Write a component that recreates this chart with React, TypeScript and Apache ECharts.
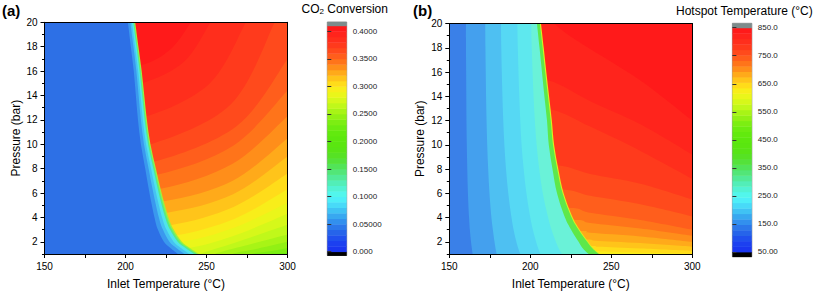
import React, { useEffect, useRef } from 'react';
import * as echarts from 'echarts';

type Pt = [number, number];

// ---------- axes ----------
const pressureTicks = [2, 4, 6, 8, 10, 12, 14, 16, 18, 20];
const pressureMinorTicks = [1, 3, 5, 7, 9, 11, 13, 15, 17, 19];
const boundaryRows = [20, 18, 16, 14, 12, 10, 8, 6, 4, 3, 2, 1.5, 1];

// ---------- colour scale (Origin rainbow, 41 levels) ----------
const palette = [
  '#1a36f0', '#1c40f0', '#2050ee', '#2664ea', '#2c78ea', '#3290ee', '#38a8f0', '#40c2f4', '#48daf8', '#4eeef8',
  '#52f6ec', '#52f2d4', '#52eeb8', '#52ea98', '#52e678', '#52e458', '#54e23a', '#56e224', '#58e416', '#5ae610',
  '#5ce80e', '#62ea0e', '#6cec10', '#7cee12', '#92f014', '#a8f416', '#c0f81a', '#d6f81a', '#eaf61a', '#f8ee1a',
  '#ffdc1a', '#ffc41a', '#ffaa1a', '#ff8e1a', '#ff741a', '#ff5e1c', '#ff4a1c', '#ff3a1c', '#ff2e1c', '#ff241c',
  '#ff1a1a',
];

const conversionBarLevels = [
  0, 0.01, 0.02, 0.03, 0.04, 0.05, 0.06, 0.07, 0.08, 0.09, 0.1, 0.11, 0.12, 0.13, 0.14, 0.15, 0.16, 0.17, 0.18, 0.19,
  0.2, 0.21, 0.22, 0.23, 0.24, 0.25, 0.26, 0.27, 0.28, 0.29, 0.3, 0.31, 0.32, 0.33, 0.34, 0.35, 0.36, 0.37, 0.38, 0.39,
  0.4, 0.41,
];
const conversionBarTicks = [0, 0.05, 0.1, 0.15, 0.2, 0.25, 0.3, 0.35, 0.4];
const conversionBarLabels = ['0.000', '0.05000', '0.1000', '0.1500', '0.2000', '0.2500', '0.3000', '0.3500', '0.4000'];

const hotspotBarLevels = [
  50, 69.5, 89, 108.5, 128, 147.5, 167, 186.5, 206, 225.5, 245, 264.5, 284, 303.5, 323, 342.5, 362, 381.5, 401, 420.5,
  440, 459.5, 479, 498.5, 518, 537.5, 557, 576.5, 596, 615.5, 635, 654.5, 674, 693.5, 713, 732.5, 752, 771.5, 791, 810.5,
  830, 849.5,
];
const hotspotBarTicks = [50, 150, 250, 350, 450, 550, 650, 750, 850];
const hotspotBarLabels = ['50.00', '150.0', '250.0', '350.0', '450.0', '550.0', '650.0', '750.0', '850.0'];

// ---------- panel (a): CO2 conversion ----------
const ignitionA = [206, 208, 210, 211.6, 213.2, 215.4, 218.8, 222.3, 226.6, 229.8, 234.8, 239.8, 245.5];
const fringeA1 = [205.4, 207.4, 209.4, 211.0, 212.5, 214.7, 218.1, 221.5, 225.7, 228.8, 233.7, 238.7, 244.3];
const fringeA2 = [204.8, 206.8, 208.7, 210.3, 211.8, 213.9, 217.2, 220.5, 224.5, 227.5, 232.2, 237.0, 242.5];
const fringeA3 = [204.0, 205.9, 207.8, 209.3, 210.7, 212.7, 215.8, 218.9, 222.6, 225.3, 229.7, 234.2, 239.5];
const fringeA4 = [203.0, 204.9, 206.7, 208.1, 209.5, 211.4, 214.3, 217.2, 220.6, 223.1, 227.1, 231.4, 236.5];
const fringeA5 = [201.5, 203.3, 205.1, 206.4, 207.7, 209.5, 212.2, 214.8, 217.9, 220.0, 223.7, 227.7, 232.5];
const fringeAColors = ['#a0f03a', '#58ea84', '#50e4ea', '#46c2f2', '#3a98ee', '#2d70e6'];

const conversionLevels = [0.23, 0.24, 0.25, 0.26, 0.27, 0.28, 0.29, 0.3, 0.31, 0.32, 0.33, 0.34, 0.35, 0.36, 0.37, 0.38, 0.39, 0.4];
const conversionLines: Pt[][] = [
  [[300, 1.1], [294, 1.04], [290, 1.0], [289, 0.5]],
  [[300, 1.5], [288, 1.2], [278, 1.0], [276, 0.5]],
  [[300, 2.0], [282, 1.45], [266, 1.0], [264, 0.5]],
  [[300, 2.6], [274, 1.7], [255, 1.0], [253, 0.5]],
  [[300, 3.4], [268, 1.95], [246, 1.0], [244, 0.5]],
  [[300, 4.3], [267, 2.5], [239, 1.5], [215, 1.45]],
  [[300, 5.2], [267, 3.15], [234.5, 2.0], [205, 1.95]],
  [[300, 6.3], [267.5, 3.9], [231, 2.53], [200, 2.45]],
  [[300, 7.6], [266.7, 4.85], [228.5, 3.38], [195, 3.3]],
  [[300, 9.0], [266.4, 5.9], [226.5, 4.41], [190, 4.35]],
  [[300, 10.5], [266.2, 7.0], [224.5, 5.35], [185, 5.3]],
  [[300, 12.3], [266.1, 8.4], [222.3, 6.37], [185, 6.3]],
  [[300, 14.4], [266.7, 9.9], [220, 7.52], [185, 7.45]],
  [[300, 17.0], [268.7, 11.5], [217.8, 8.58], [185, 8.5]],
  [[292.1, 20], [265.2, 13.3], [215.5, 10], [185, 9.9]],
  [[274.3, 20], [252.1, 15], [213.3, 12.3], [185, 12.2]],
  [[252.4, 20], [236.4, 16.8], [211, 15.05], [185, 14.95]],
  [[240.4, 20], [227.9, 17.8], [209.6, 16.5], [185, 16.4]],
];

// ---------- panel (b): hotspot temperature ----------
const ignitionB = [206.6, 208.3, 209.9, 211.6, 213.3, 214.7, 217.3, 220.6, 226.2, 230.5, 235.8, 238.8, 243];
const fringeB1 = [205.9, 207.6, 209.2, 210.9, 212.6, 214.0, 216.6, 219.9, 225.5, 229.8, 235.1, 238.1, 242.3];
const fringeB2 = [204.1, 205.7, 207.2, 208.7, 210.3, 211.4, 213.7, 216.5, 221.4, 225.2, 229.8, 232.2, 236.0];
const coolB5 = [200.5, 200.9, 201.4, 202.0, 202.8, 203.9, 205.5, 207.7, 211.0, 213.1, 215.8, 217.4, 219.5];
const coolB4 = [192.0, 192.3, 192.7, 193.2, 193.8, 194.6, 195.9, 197.6, 200.0, 201.6, 203.6, 204.8, 206.2];
const coolB3 = [181.9, 182.1, 182.4, 182.8, 183.3, 184.0, 185.0, 186.4, 188.4, 189.7, 191.4, 192.5, 193.8];
const coolB2 = [172.2, 172.3, 172.5, 172.7, 173.0, 173.4, 174.0, 174.8, 176.0, 176.9, 177.9, 178.5, 179.2];
const coolB1 = [160.3, 160.3, 160.4, 160.5, 160.6, 160.8, 161.1, 161.5, 162.2, 162.7, 163.4, 163.9, 164.4];
const leftBColors = ['#d8f020', '#5ee84a', '#6af2d8', '#5ee8ee', '#56d8f4', '#4ec0f2', '#44a0ee', '#3a80e8'];

const hotspotBandIndex = [30, 31, 32, 33, 34, 35, 36, 37, 38, 39, 40];
const hotspotLines: Pt[][] = [
  [[300, 1.0], [268, 1.1], [244, 1.2], [241, 1.25], [215, 1.25]],
  [[300, 1.25], [268, 1.45], [242, 1.6], [238.5, 1.65], [210, 1.65]],
  [[300, 1.6], [268, 1.9], [240, 2.1], [235, 2.2], [200, 2.2]],
  [[300, 2.0], [268, 2.45], [237, 2.75], [231.5, 2.9], [190, 2.9]],
  [[300, 2.5], [268, 3.1], [237, 3.55], [228.5, 3.8], [190, 3.8]],
  [[300, 3.0], [268, 3.8], [237, 4.4], [225.5, 4.8], [190, 4.8]],
  [[300, 4.1], [268, 5.1], [237, 5.8], [221.5, 6.3], [190, 6.3]],
  [[300, 5.5], [268, 6.8], [237, 7.6], [218, 8.3], [190, 8.3]],
  [[300, 7.2], [268, 9.5], [237, 11.5], [213.5, 12.9], [190, 12.9]],
  [[300, 9.2], [268, 11.7], [237, 13.6], [211.5, 15.3], [190, 15.3]],
  [[300, 12.0], [268, 15.3], [237, 17.9], [222, 19.2], [212, 20.3]],
];

// ---------- drawing helpers ----------
type Shape = { kind: 'rect' | 'above' | 'left'; pts?: Pt[]; fill: string };

const zipRows = (ts: number[]): Pt[] => ts.map((t, i) => [t, boundaryRows[i]] as Pt);
const r2 = (v: number) => Math.round(v * 100) / 100;

function curve(p: number[][]): string {
  let d = `M${r2(p[0][0])},${r2(p[0][1])}`;
  for (let i = 0; i < p.length - 1; i++) {
    const p0 = p[i - 1] || p[i];
    const p1 = p[i];
    const p2 = p[i + 1];
    const p3 = p[i + 2] || p2;
    const k = 1 / 6;
    const c1x = p1[0] + (p2[0] - p0[0]) * k;
    const c1y = p1[1] + (p2[1] - p0[1]) * k;
    const c2x = p2[0] - (p3[0] - p1[0]) * k;
    const c2y = p2[1] - (p3[1] - p1[1]) * k;
    d += `C${r2(c1x)},${r2(c1y)} ${r2(c2x)},${r2(c2y)} ${r2(p2[0])},${r2(p2[1])}`;
  }
  return d;
}

function plotRenderer(shapes: Shape[]) {
  return (params: any, api: any) => {
    const s = shapes[params.dataIndex];
    const cs = params.coordSys;
    const clipPath = { type: 'rect', shape: { x: cs.x, y: cs.y, width: cs.width, height: cs.height } };
    if (s.kind === 'rect') {
      return { type: 'rect', shape: { x: cs.x, y: cs.y, width: cs.width, height: cs.height }, style: { fill: s.fill } };
    }
    const pts = s.pts as Pt[];
    const first = pts[0];
    const last = pts[pts.length - 1];
    const closure: Pt[] =
      s.kind === 'above'
        ? [[140, last[1]], [140, 25], [320, 25], [320, first[1]]]
        : [[last[0], 0], [140, 0], [140, 25], [first[0], 25]];
    let d = curve(pts.map((p) => api.coord(p)));
    closure.forEach((c) => {
      const q = api.coord(c);
      d += `L${r2(q[0])},${r2(q[1])}`;
    });
    d += 'Z';
    return { type: 'path', shape: { pathData: d }, style: { fill: s.fill }, clipPath };
  };
}

function barRenderer(levels: number[], lo: number, hi: number) {
  const n = levels.length - 1;
  return (params: any, api: any) => {
    const i = params.dataIndex;
    let v0: number, v1: number, fill: string;
    if (i === 0) {
      v0 = lo; v1 = levels[0]; fill = '#000000';
    } else if (i <= n) {
      v0 = levels[i - 1]; v1 = levels[i]; fill = palette[i - 1];
    } else {
      v0 = levels[n]; v1 = hi; fill = '#7d8c8c';
    }
    const a = api.coord([0, v1]);
    const b = api.coord([1, v0]);
    return {
      type: 'rect',
      shape: { x: a[0], y: a[1], width: b[0] - a[0], height: b[1] - a[1] + 0.4 },
      style: { fill },
    };
  };
}

const shapesA: Shape[] = [
  { kind: 'rect', fill: palette[22] },
  ...conversionLines.map((pts, i) => ({
    kind: 'above' as const,
    pts,
    fill: palette[Math.round(conversionLevels[i] * 100)],
  })),
  ...[ignitionA, fringeA1, fringeA2, fringeA3, fringeA4, fringeA5].map((ts, i) => ({
    kind: 'left' as const,
    pts: zipRows(ts),
    fill: fringeAColors[i],
  })),
];

const shapesB: Shape[] = [
  { kind: 'rect', fill: palette[29] },
  ...hotspotLines.map((pts, i) => ({ kind: 'above' as const, pts, fill: palette[hotspotBandIndex[i]] })),
  ...[ignitionB, fringeB1, fringeB2, coolB5, coolB4, coolB3, coolB2, coolB1].map((ts, i) => ({
    kind: 'left' as const,
    pts: zipRows(ts),
    fill: leftBColors[i],
  })),
];

const FONT = "'Liberation Sans', Arial, Helvetica, sans-serif";
const INK = '#000000';

function plotAxes(gridIndex: number) {
  const x = [
    {
      type: 'value', gridIndex, min: 150, max: 300, interval: 50, position: 'bottom', z: 5,
      axisLine: { show: true, lineStyle: { color: INK, width: 1 } },
      axisTick: { show: true, length: 4, lineStyle: { color: INK } },
      minorTick: { show: true, splitNumber: 2, length: 4, lineStyle: { color: INK } },
      axisLabel: { fontSize: 10, color: INK, fontFamily: FONT, margin: 7 },
      splitLine: { show: false },
      name: 'Inlet Temperature (°C)', nameLocation: 'middle', nameGap: 24,
      nameTextStyle: { fontSize: 12, color: INK, fontFamily: FONT },
    },
    {
      type: 'value', gridIndex, min: 150, max: 300, position: 'top', z: 5,
      axisLine: { show: true, lineStyle: { color: INK, width: 1 } },
      axisTick: { show: false }, axisLabel: { show: false }, splitLine: { show: false },
    },
  ];
  const y = [
    {
      type: 'value', gridIndex, min: 1, max: 20, position: 'left', z: 5,
      axisLine: { show: true, lineStyle: { color: INK, width: 1 } },
      axisTick: { show: true, length: 4, customValues: pressureTicks, lineStyle: { color: INK } },
      axisLabel: { customValues: pressureTicks, fontSize: 10, color: INK, fontFamily: FONT, margin: 7 },
      splitLine: { show: false },
      name: 'Pressure (bar)', nameLocation: 'middle', nameGap: 23, nameRotate: 90,
      nameTextStyle: { fontSize: 12, color: INK, fontFamily: FONT },
    },
    {
      type: 'value', gridIndex, min: 1, max: 20, position: 'left', z: 5,
      axisLine: { show: false },
      axisTick: { show: true, length: 2.5, customValues: pressureMinorTicks, lineStyle: { color: INK } },
      axisLabel: { show: false }, splitLine: { show: false },
    },
    {
      type: 'value', gridIndex, min: 1, max: 20, position: 'right', z: 5,
      axisLine: { show: true, lineStyle: { color: INK, width: 1 } },
      axisTick: { show: false }, axisLabel: { show: false }, splitLine: { show: false },
    },
  ];
  return { x, y };
}

function barAxes(gridIndex: number, lo: number, hi: number, ticks: number[], labels: string[]) {
  return {
    x: { type: 'value', gridIndex, min: 0, max: 1, show: false },
    y: {
      type: 'value', gridIndex, min: lo, max: hi, position: 'right', z: 5,
      axisLine: { show: false },
      axisTick: { show: true, length: 4, customValues: ticks, lineStyle: { color: '#333' } },
      axisLabel: {
        customValues: ticks, fontSize: 8, color: '#222', fontFamily: FONT, margin: 6,
        formatter: (v: number) => {
          let best = 0;
          ticks.forEach((t, i) => { if (Math.abs(t - v) < Math.abs(ticks[best] - v)) best = i; });
          return labels[best];
        },
      },
      splitLine: { show: false },
    },
  };
}

export default function App() {
  const ref = useRef<HTMLDivElement>(null);

  useEffect(() => {
    if (!ref.current) return;
    const chart = echarts.init(ref.current, undefined, { renderer: 'svg' });

    const aAx = plotAxes(0);
    const bAx = plotAxes(2);
    const cbA = barAxes(1, -0.0069, 0.4169, conversionBarTicks, conversionBarLabels);
    const cbB = barAxes(3, 33.2, 865.7, hotspotBarTicks, hotspotBarLabels);

    const option: any = {
      animation: false,
      backgroundColor: '#ffffff',
      textStyle: { fontFamily: FONT },
      grid: [
        { left: 44.5, top: 22.3, width: 243, height: 233.3 },
        { left: 327.3, top: 22, width: 19.4, height: 233.5, show: true, borderColor: '#777', borderWidth: 0.8, backgroundColor: 'transparent' },
        { left: 449.3, top: 23.5, width: 243, height: 232.6 },
        { left: 732.4, top: 23.3, width: 19.4, height: 233.4, show: true, borderColor: '#777', borderWidth: 0.8, backgroundColor: 'transparent' },
      ],
      xAxis: [aAx.x[0], aAx.x[1], cbA.x, bAx.x[0], bAx.x[1], cbB.x],
      yAxis: [aAx.y[0], aAx.y[1], aAx.y[2], cbA.y, bAx.y[0], bAx.y[1], bAx.y[2], cbB.y],
      series: [
        {
          type: 'custom', name: 'CO2 Conversion', xAxisIndex: 0, yAxisIndex: 0, clip: true, z: 2,
          renderItem: plotRenderer(shapesA),
          data: shapesA.map(() => [150, 1]),
          silent: true,
        },
        {
          type: 'custom', name: 'CO2 Conversion scale', xAxisIndex: 2, yAxisIndex: 3, z: 2,
          renderItem: barRenderer(conversionBarLevels, -0.0069, 0.4169),
          data: Array.from({ length: conversionBarLevels.length + 1 }, () => [0, 0]),
          silent: true,
        },
        {
          type: 'custom', name: 'Hotspot Temperature', xAxisIndex: 3, yAxisIndex: 4, clip: true, z: 2,
          renderItem: plotRenderer(shapesB),
          data: shapesB.map(() => [150, 1]),
          silent: true,
        },
        {
          type: 'custom', name: 'Hotspot Temperature scale', xAxisIndex: 5, yAxisIndex: 7, z: 2,
          renderItem: barRenderer(hotspotBarLevels, 33.2, 865.7),
          data: Array.from({ length: hotspotBarLevels.length + 1 }, () => [0, 50]),
          silent: true,
        },
      ],
      graphic: [
        { type: 'text', x: 2, y: 10, style: { text: '(a)', font: `bold 15px ${FONT}`, fill: INK, verticalAlign: 'middle' } },
        { type: 'text', x: 413, y: 10, style: { text: '(b)', font: `bold 15px ${FONT}`, fill: INK, verticalAlign: 'middle' } },
        {
          type: 'text', x: 301.5, y: 8.5,
          style: {
            text: '{m|CO}{s|2}{m| Conversion}', verticalAlign: 'middle', fill: INK,
            rich: {
              m: { fontSize: 12, fontFamily: FONT, fill: INK },
              s: { fontSize: 8, fontFamily: FONT, fill: INK, verticalAlign: 'bottom', padding: [6, 0, 0, 0] },
            },
          },
        },
        { type: 'text', x: 676, y: 11, style: { text: 'Hotspot Temperature (°C)', font: `12px ${FONT}`, fill: INK, verticalAlign: 'middle' } },
      ],
    };

    chart.setOption(option);
    return () => chart.dispose();
  }, []);

  return (
    <div
      ref={ref}
      style={{ position: 'fixed', left: 0, top: 0, width: 817, height: 295, background: '#fff' }}
    />
  );
}
